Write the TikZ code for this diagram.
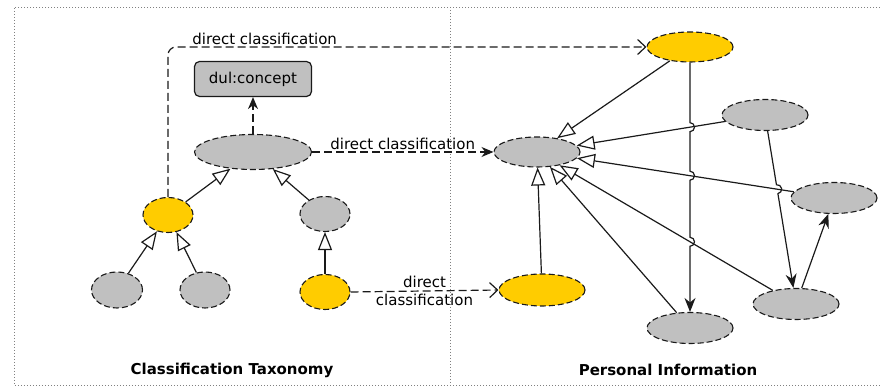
\documentclass[tikz,border=0pt]{standalone}
\usepackage{fontspec}
\setmainfont{DejaVu Sans}
\usetikzlibrary{arrows.meta,shapes.geometric,intersections,calc}
\definecolor{nodegray}{HTML}{C0C0C0}
\definecolor{nodeyellow}{HTML}{FFCC00}
\definecolor{linecol}{HTML}{1A1A1A}
\begin{document}
\begin{tikzpicture}[x=1pt,y=1pt,
  font=\fontsize{15}{18}\selectfont,
  ell/.style={ellipse, draw=linecol, line width=1.1pt, dash pattern=on 6pt off 3pt, inner sep=0pt},
  gnode/.style={ell, fill=nodegray},
  ynode/.style={ell, fill=nodeyellow},
  smallell/.style={minimum width=50pt, minimum height=35pt},
  wideell/.style={minimum width=86pt, minimum height=31pt},
  isa/.style={draw=linecol, line width=1.2pt, -{Triangle[open, fill=white, length=18pt, width=14pt]}},
  rel/.style={draw=linecol, line width=1.2pt, -{Stealth[length=14pt, width=11pt]}},
  cls/.style={draw=linecol, line width=1.2pt, dash pattern=on 8pt off 4pt},
  openhead/.style={-{Straight Barb[length=8pt, width=15pt]}},
  fillhead/.style={-{Stealth[length=12pt, width=10pt]}},
  frameline/.style={draw=gray, line width=0.9pt, dash pattern=on 0.9pt off 2.1pt},
  titletext/.style={font=\fontsize{15}{18}\selectfont\bfseries}
]
\useasboundingbox (0,0) rectangle (880,387);
% frame
\draw[frameline] (880,380) -- (14,380) -- (14,2) -- (880,2);
\draw[frameline] (450,380) -- (450,2);

% left panel
\node[draw=linecol, line width=1.2pt, fill=nodegray, rounded corners=5pt,
      minimum width=117pt, minimum height=35pt, inner sep=0pt] (dulc) at (253,308) {dul:concept};
\node[gnode, minimum width=117pt, minimum height=35pt] (A) at (253,235) {};
\node[ynode, smallell] (B) at (168,172) {};
\node[gnode, smallell] (C) at (325,173) {};
\node[gnode, smallell, minimum width=51pt, minimum height=36pt] (D) at (117,97) {};
\node[gnode, smallell, minimum height=36pt] (E) at (205,97) {};
\node[ynode, smallell] (F) at (325,95) {};
\node[titletext] (t1) at (232,17) {Classification Taxonomy};

% right panel
\node[ynode, wideell, minimum height=30pt] (G) at (690,340) {};
\node[gnode, wideell, minimum height=30pt] (H) at (537,235) {};
\node[gnode, wideell] (I) at (765,272) {};
\node[gnode, wideell] (J) at (834,189) {};
\node[gnode, wideell] (K) at (796,83) {};
\node[gnode, wideell] (L) at (690,59) {};
\node[ynode, wideell, minimum height=32pt] (M) at (542,97) {};
\node[titletext] (t2) at (668,17) {Personal Information};

% left taxonomy edges
\draw[cls, fillhead] (A.north) -- (dulc.south);
\draw[isa] (B) -- (A);
\draw[isa] (C) -- (A);
\draw[isa] (D) -- (B);
\draw[isa] (E) -- (B);
\draw[isa] (F) -- (C);

% direct classification connectors
\draw[cls, openhead, rounded corners=8pt] (B.north) |- (G.west)
   node[pos=0.601, above, inner sep=2pt] {direct classification};
\draw[cls, fillhead] (A.east) -- (H.west)
   node[midway, above, inner sep=2pt] {direct classification};
\draw[cls, openhead] (F.east) -- (M.west)
   node[midway, align=center, inner sep=0pt] {direct\\classification};

% right panel edges
\draw[isa] (G) -- (H);
\draw[isa, name path=IH] (I) -- (H);
\draw[isa, name path=JH] (J) -- (H);
\draw[isa, name path=KH] (K) -- (H);
\draw[isa] (L) -- (H);
\draw[isa] (M) -- (H);

\path[name path=GL] (G) -- (L);
\path[name intersections={of=GL and IH, by=h1}];
\path[name intersections={of=GL and JH, by=h2}];
\path[name intersections={of=GL and KH, by=h3}];
\draw[rel] (G.south) -- ($(h1)+(0,4.5pt)$) arc[start angle=90, end angle=-90, radius=4.5pt]
  -- ($(h2)+(0,4.5pt)$) arc[start angle=90, end angle=-90, radius=4.5pt]
  -- ($(h3)+(0,4.5pt)$) arc[start angle=90, end angle=-90, radius=4.5pt]
  -- (L.north);

\path[name path=IK] (I) -- (K);
\path[name intersections={of=IK and JH, by=h4}];
\draw[rel] let \p1=($(K)-(I)$), \n1={atan2(\y1,\x1)} in
  (I) -- ($(h4)!4.5pt!(I)$) arc[start angle=\n1+180, end angle=\n1, radius=4.5pt] -- (K);
\draw[rel] (K) -- (J);
\end{tikzpicture}
\end{document}
